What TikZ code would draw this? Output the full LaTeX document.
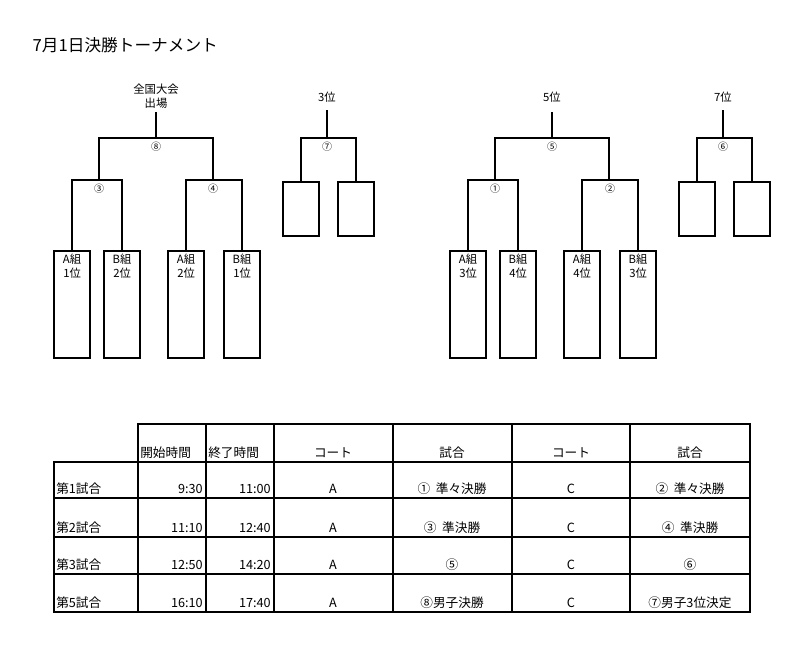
\documentclass[tikz,border=0pt]{standalone}
\usepackage{fontspec}
\setmainfont{Noto Sans CJK JP}
\begin{document}
\begin{tikzpicture}[x=0.75pt,y=-0.75pt,
  br/.style={line width=1.6pt},
  box/.style={draw,line width=1.6pt,anchor=north west,minimum width=27pt,inner sep=0pt},
  lbl/.style={font=\fontsize{7.5}{9}\selectfont,inner sep=1pt,fill=white},
  blbl/.style={font=\fontsize{8.5}{10.5}\selectfont,inner sep=1pt},
  tl/.style={line width=1pt},
  cell/.style={font=\fontsize{9.5}{11}\selectfont,anchor=base,inner sep=0pt}]
\useasboundingbox (0,0) rectangle (800,653);
\node[anchor=west,font=\fontsize{12.5}{14}\selectfont] (title) at (28,45) {7月1日決勝トーナメント};
\foreach \o/\p in {0/L,396/R}{
  \begin{scope}[xshift=\o*0.75pt]
  \node[box,minimum height=80.25pt] (\p b1) at (53,250) {};
  \node[box,minimum height=80.25pt] (\p b2) at (103,250) {};
  \node[box,minimum height=80.25pt] (\p b3) at (167,250) {};
  \node[box,minimum height=80.25pt] (\p b4) at (223,250) {};
  \coordinate (\p top) at (156,112);
  \draw[br] (\p top) -- (156,138) (99,180) |- (213,138) -- (213,180);
  \draw[br] (\p b1.north) |- (99,180) -| (\p b2.north);
  \draw[br] (\p b3.north) |- (213,180) -| (\p b4.north);
  \end{scope}
  \begin{scope}[xshift=\o*0.75pt]
  \node[box,minimum height=40.5pt] (\p c1) at (282,181) {};
  \node[box,minimum height=40.5pt] (\p c2) at (337,181) {};
  \coordinate (\p ctop) at (327,110);
  \draw[br] (\p ctop) -- (327,138);
  \draw[br] (\p c1.north) |- (327,138) -| (\p c2.north);
  \end{scope}
}
\node[lbl] (m8) at (156,147) {⑧};
\node[lbl] (m3) at (99,189) {③};
\node[lbl] (m4) at (213,189) {④};
\node[lbl] (m7) at (327,147) {⑦};
\node[lbl] (m5) at (552,147) {⑤};
\node[lbl] (m1) at (495,189) {①};
\node[lbl] (m2) at (610,189) {②};
\node[lbl] (m6) at (723,147) {⑥};
\node[blbl,align=center] (t1) at (156,96) {全国大会\\出場};
\node[blbl] (t3) at (327,97) {3位};
\node[blbl] (t5) at (552,97) {5位};
\node[blbl] (t7) at (723,97) {7位};
\foreach \n/\a/\b in {Lb1/A組/1位,Lb2/B組/2位,Lb3/A組/2位,Lb4/B組/1位,Rb1/A組/3位,Rb2/B組/4位,Rb3/A組/4位,Rb4/B組/3位}{
  \node[blbl,align=center,below=2pt] at (\n.north) {\a\\\b};
}
% ---- table
\draw[tl] (138,424) rectangle (750,612);
\draw[tl] (54,462) rectangle (138,612);
\foreach \y in {462,498,537,574}{\draw[tl] (54,\y) -- (750,\y);}
\foreach \x in {206,274,393,512,630}{\draw[tl] (\x,424) -- (\x,612);}
\node[cell,anchor=base west] (h1) at (140,457) {開始時間};
\node[cell,anchor=base west] (h2) at (208,457) {終了時間};
\node[cell] (h3) at (333,457) {コート};
\node[cell] (h4) at (452,457) {試合};
\node[cell] (h5) at (571,457) {コート};
\node[cell] (h6) at (690,457) {試合};
\foreach \y/\g/\s/\e/\ma/\mc in {493/第1試合/9:30/11:00/{①\ \ 準々決勝}/{②\ \ 準々決勝},
  532/第2試合/11:10/12:40/{③\ \ 準決勝}/{④\ \ 準決勝},
  569/第3試合/12:50/14:20/⑤/⑥,
  607/第5試合/16:10/17:40/⑧男子決勝/⑦男子3位決定}{
  \node[cell,anchor=base west] at (56,\y) {\g};
  \node[cell,anchor=base east] at (203,\y) {\s};
  \node[cell,anchor=base east] at (271,\y) {\e};
  \node[cell] at (333,\y) {A};
  \node[cell] at (452,\y) {\ma};
  \node[cell] at (571,\y) {C};
  \node[cell] at (690,\y) {\mc};
}
\end{tikzpicture}
\end{document}
